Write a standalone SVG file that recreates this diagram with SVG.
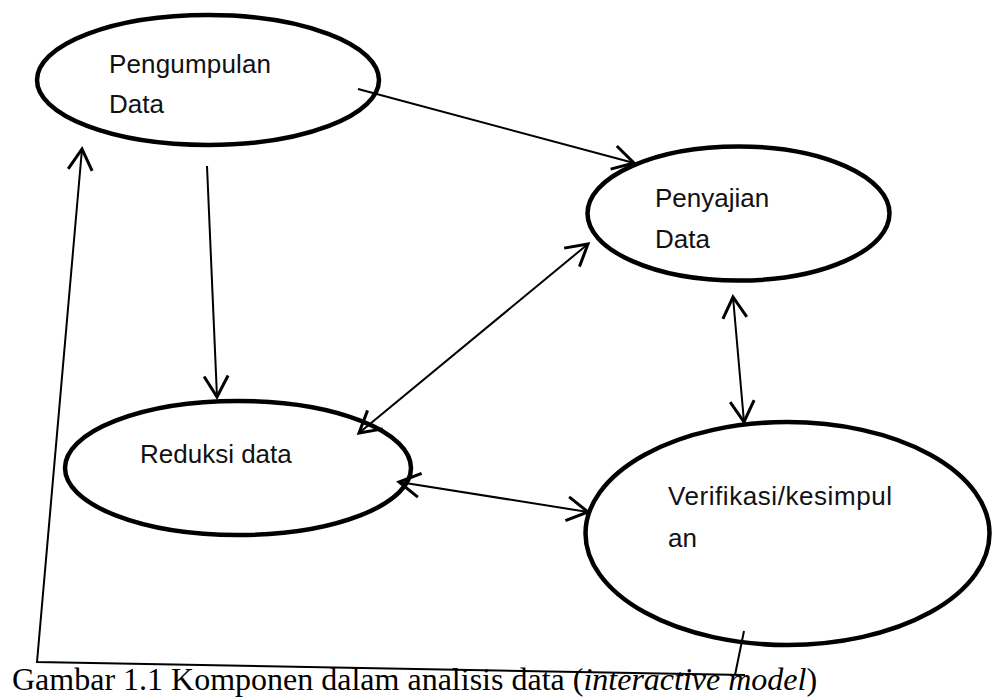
<svg xmlns="http://www.w3.org/2000/svg" width="992" height="697" viewBox="0 0 992 697">
  <defs>
    <style>
      .node { fill: #fff; stroke: #000; stroke-width: 4.5; }
      .lbl { font-family: "Liberation Sans", Arial, sans-serif; font-size: 26px; fill: #111; }
      .conn { fill: none; stroke: #000; stroke-width: 2; }
      .cap { font-family: "Liberation Serif", "Times New Roman", serif; font-size: 32px; fill: #000; }
    </style>
    <marker id="arr" markerUnits="userSpaceOnUse" markerWidth="30" markerHeight="30" refX="0" refY="0" viewBox="-16 -10 18 20" orient="auto-start-reverse" overflow="visible">
      <path d="M-14,-8 L0,0 L-14,8" fill="none" stroke="#000" stroke-width="2"/>
    </marker>
  </defs>
  <rect width="992" height="697" fill="#fff"/>

  <g id="node-pengumpulan">
    <ellipse class="node" cx="208" cy="80" rx="171" ry="65"/>
    <text class="lbl" x="109" y="73" textLength="162" lengthAdjust="spacing">Pengumpulan</text>
    <text class="lbl" x="109" y="113">Data</text>
  </g>

  <g id="node-penyajian">
    <ellipse class="node" cx="738.5" cy="213.5" rx="151" ry="67"/>
    <text class="lbl" x="655" y="207">Penyajian</text>
    <text class="lbl" x="655" y="248">Data</text>
  </g>

  <g id="node-reduksi">
    <ellipse class="node" cx="238" cy="468" rx="173" ry="67"/>
    <text class="lbl" x="140" y="463">Reduksi data</text>
  </g>

  <g id="node-verifikasi">
    <ellipse class="node" cx="787.5" cy="533.5" rx="202" ry="111.5"/>
    <text class="lbl" x="668" y="505" textLength="224" lengthAdjust="spacing">Verifikasi/kesimpul</text>
    <text class="lbl" x="668" y="547">an</text>
  </g>

  <g id="connectors">
    <line class="conn" x1="358" y1="89" x2="634" y2="163" marker-end="url(#arr)"/>
    <line class="conn" x1="207" y1="166" x2="217" y2="397" marker-end="url(#arr)"/>
    <line class="conn" x1="359" y1="433" x2="588" y2="244" marker-start="url(#arr)" marker-end="url(#arr)"/>
    <line class="conn" x1="733" y1="297" x2="744" y2="422" marker-start="url(#arr)" marker-end="url(#arr)"/>
    <line class="conn" x1="399" y1="482" x2="588" y2="512" marker-start="url(#arr)" marker-end="url(#arr)"/>
    <line class="conn" x1="744" y1="631" x2="735" y2="675"/>
    <polyline class="conn" points="745,675 37,662 82,149" marker-end="url(#arr)"/>
  </g>

  <text class="cap" x="12" y="690">Gambar 1.1 Komponen dalam analisis data (<tspan font-style="italic">interactive model</tspan>)</text>
</svg>
